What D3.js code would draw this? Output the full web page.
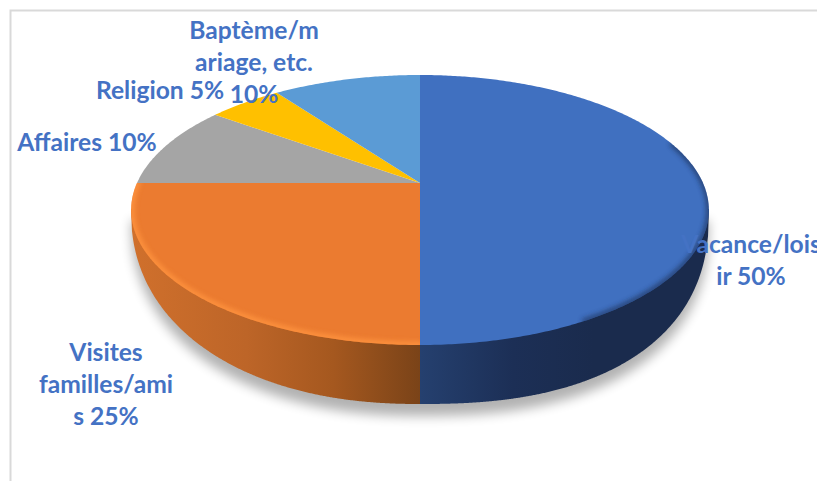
<!DOCTYPE html>
<html><head><meta charset="utf-8">
<script src="https://cdn.jsdelivr.net/npm/d3@7"></script>
<style>html,body{margin:0;padding:0;background:#fff;overflow:hidden}svg{display:block}</style>
</head><body><svg id="c" width="817" height="481"></svg>
<script>
const categories = ["Vacance/loisir","Visites familles/amis","Affaires","Religion","Baptème/mariage, etc."];
const shares = [50,25,10,5,10];
const sliceColors = ["#4070c0","#eb7b30","#a5a5a5","#ffc000","#5b9bd5"];
const labelLines = [["Vacance/lois","ir 50%"],["Visites","familles/ami","s 25%"],["Affaires 10%"],["Religion 5%"],["Baptème/m","ariage, etc.","10%"]];
const labelAnchors = [[751,253],[106,361],[87,151],[160,99],[254,39]];

const W=817,H=481;
const svg=d3.select("#c");
const defs=svg.append("defs");

// frame of the chart area
svg.append("path").attr("d","M10.5,490V10.5H830").attr("fill","none").attr("stroke","#d9d9d9").attr("stroke-width",2);

// perspective projection of the unit disc
const apex={x:420,y:183}, A=283, B=129.6, k=-0.2;
const project=t=>{const u=Math.sin(t),v=-Math.cos(t),d=1+k*v;return [apex.x+A*u/d,apex.y+B*v/d];};
const pie=d3.pie().sort(null).value(d=>d);
const arcs=pie(shares);
const sampled=(a,b)=>{const n=Math.max(2,Math.ceil((b-a)/0.01));return d3.range(n+1).map(i=>project(a+(b-a)*i/n));};
const line=d3.line();

// lower silhouette of the pie
const rim={cx:420,cy:210,rx:289,ry:194};
const lower=x=>{const dx=(x-rim.cx)/rim.rx,n=dx<0?2.2:2.4;
  return rim.cy+rim.ry*Math.pow(Math.max(0,1-Math.pow(Math.abs(dx),n)),1/n);};
const xs=(a,b)=>d3.range(0,301).map(i=>a+(b-a)*i/300);
const area=d3.area().x(d=>d).y0(rim.cy-1).y1(lower);

const blur=(id,s)=>defs.append("filter").attr("id",id).attr("x","-20%").attr("y","-20%").attr("width","140%").attr("height","140%")
  .append("feGaussianBlur").attr("stdDeviation",s);
blur("sh",6);blur("b3",2.4);

const grad=(id,stops)=>{const g=defs.append("linearGradient").attr("id",id).attr("gradientUnits","userSpaceOnUse")
   .attr("x1",131).attr("x2",709).attr("y1",0).attr("y2",0);
   stops.forEach(s=>g.append("stop").attr("offset",s[0]).attr("stop-color",s[1]));return `url(#${id})`;};
const sideFill=[
  grad("gb",[[0.5,"#25406f"],[0.66,"#1c2f56"],[0.8,"#1a2b4d"],[1,"#1a2b4d"]]),
  grad("go",[[0,"#d0702c"],[0.2,"#bd6528"],[0.35,"#a5581f"],[0.5,"#7a4318"]])
];

// drop shadow
svg.append("path").attr("d",area(xs(131,709))).attr("transform","translate(0,12)")
   .attr("fill","#000").attr("opacity",.3).attr("filter","url(#sh)");

// side walls
const sideRange=[[420,709],[131,420]];
svg.selectAll("path.side").data(arcs.slice(0,2)).join("path").attr("class","side")
   .attr("d",(d,i)=>area(xs(sideRange[i][0],sideRange[i][1])))
   .attr("fill",(d,i)=>sideFill[i]);

// top faces
const facePath=d=>line([[apex.x,apex.y],...sampled(d.startAngle,d.endAngle)])+"Z";
svg.selectAll("path.face").data(arcs).join("path").attr("class","face")
   .attr("d",facePath).attr("fill",(d,i)=>sliceColors[i]);

// bevel on the rim, clipped to each face
arcs.forEach((d,i)=>defs.append("clipPath").attr("id","cf"+i).append("path").attr("d",facePath(d)));
const rimColors=["#1c3058","#ff9440"];
const rimStart=[1.25,arcs[1].startAngle];
arcs.slice(0,2).forEach((d,i)=>{
  svg.append("g").attr("clip-path",`url(#cf${i})`)
   .append("path").attr("d",line(sampled(rimStart[i],d.endAngle-(i?0:0.5))))
   .attr("fill","none").attr("stroke",rimColors[i]).attr("stroke-width",i?7:5).attr("filter","url(#b3)")
   .attr("stroke-linecap","round").attr("opacity",i?.85:.75);
});

// labels
const labels=svg.selectAll("text.lab").data(labelLines).join("text").attr("class","lab")
  .attr("text-anchor","middle").attr("font-family","Lato").attr("font-weight",700).attr("font-size",24.6)
  .attr("fill","#4472c4");
labels.each(function(lines,i){
  d3.select(this).selectAll("tspan").data(lines).join("tspan")
    .attr("x",labelAnchors[i][0]).attr("y",(l,j)=>labelAnchors[i][1]+j*32).text(l=>l);
});
</script></body></html>
